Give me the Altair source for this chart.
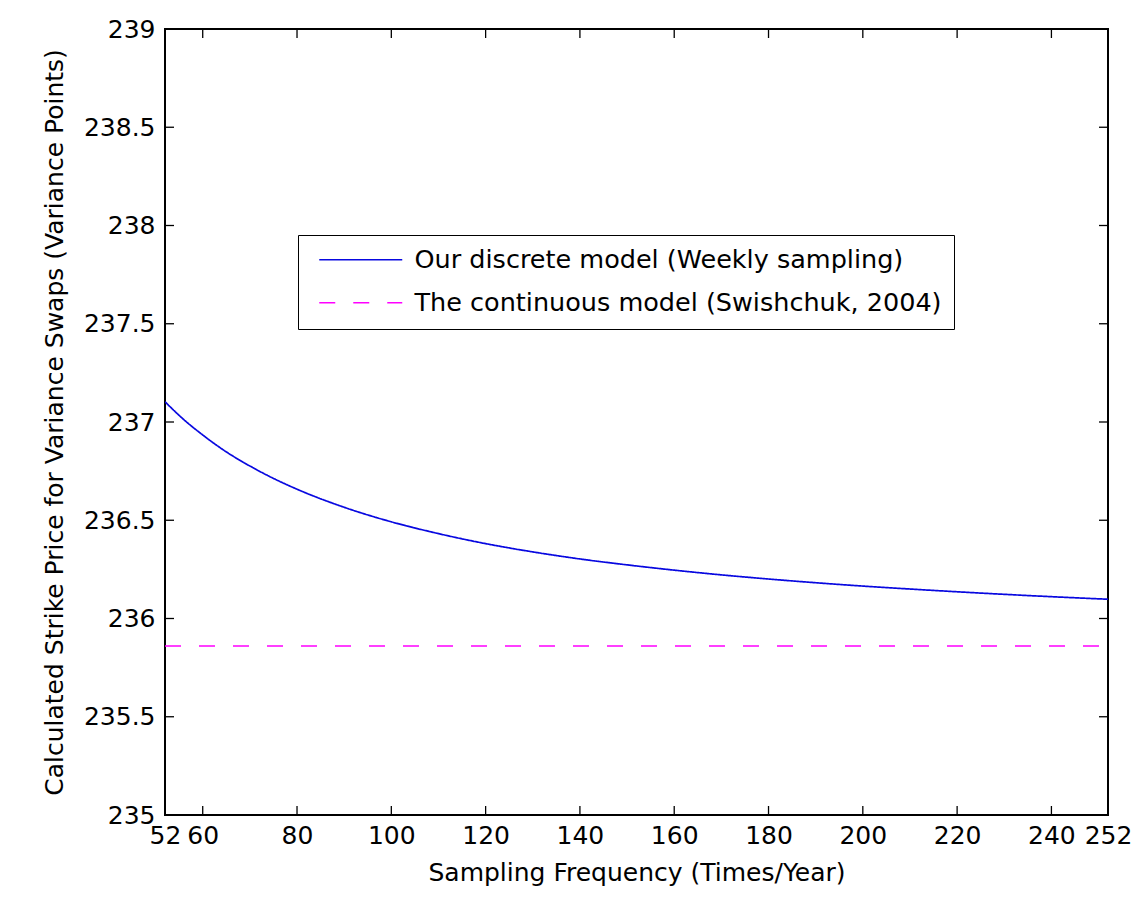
import altair as alt
import pandas as pd

# Sampling frequency (times per year) and the computed strike price of the discrete model
freq = [52, 56, 60, 65, 70, 75, 80, 90, 100, 110, 120, 130, 140, 150,
        160, 170, 180, 190, 200, 210, 220, 230, 240, 252]
discrete = [237.103, 237.012, 236.934, 236.848, 236.776, 236.713, 236.658,
            236.566, 236.492, 236.432, 236.381, 236.339, 236.303, 236.273,
            236.246, 236.222, 236.201, 236.182, 236.165, 236.150, 236.136,
            236.123, 236.111, 236.098]

# Continuous-time benchmark (flat across frequencies)
cont_freq = [52, 252]
continuous = [235.86, 235.86]

series_names = ["Our discrete model (Weekly sampling)",
                "The continuous model (Swishchuk, 2004)"]

x_ticks = [52, 60, 80, 100, 120, 140, 160, 180, 200, 220, 240, 252]
y_ticks = [235, 235.5, 236, 236.5, 237, 237.5, 238, 238.5, 239]

W, H = 943, 786
FONT = "DejaVu Sans"
FS = 25
TICK = 9

lines = pd.DataFrame(
    {"freq": freq, "price": discrete, "series": series_names[0]}
)
lines = pd.concat([
    lines,
    pd.DataFrame({"freq": cont_freq, "price": continuous, "series": series_names[1]}),
])

xscale = alt.Scale(domain=[52, 252], nice=False, zero=False)
yscale = alt.Scale(domain=[235, 239], nice=False, zero=False)

x_title = "Sampling Frequency (Times/Year)"
y_title = "Calculated Strike Price for Variance Swaps (Variance Points)"

line_layer = alt.Chart(lines).mark_line(clip=True, interpolate="monotone").encode(
    x=alt.X("freq:Q", scale=xscale, title=x_title,
            axis=alt.Axis(values=x_ticks, ticks=False, domain=False, grid=False,
                          labelPadding=8, titlePadding=12, labelOverlap=False,
                          labelFlush=False)),
    y=alt.Y("price:Q", scale=yscale, title=y_title,
            axis=alt.Axis(values=y_ticks, format="~f", ticks=False, domain=False,
                          grid=False, labelPadding=10, titlePadding=16,
                          labelOverlap=False, labelFlush=False)),
    color=alt.Color("series:N",
                    scale=alt.Scale(domain=series_names, range=["#0808e0", "#ff00ff"]),
                    legend=alt.Legend(title=None, orient="none", legendX=133, legendY=206,
                                      symbolType="M-0.333,0H7.571", symbolSize=441,
                                      symbolStrokeWidth=1.6, labelFontSize=25.5,
                                      labelFont=FONT, labelColor="black", labelLimit=0,
                                      strokeColor="black", fillColor="white",
                                      padding=12, rowPadding=16, labelOffset=79)),
    strokeDash=alt.StrokeDash("series:N",
                              scale=alt.Scale(domain=series_names,
                                              range=[[1, 0], [16, 18]]),
                              legend=alt.Legend(title=None)),
    strokeWidth=alt.value(1.7),
)

xt = pd.DataFrame({"v": x_ticks})
yt = pd.DataFrame({"v": y_ticks})

# Inward tick marks on all four sides of the box
rule = dict(color="black", strokeWidth=1.3)
x_bottom = alt.Chart(xt).mark_rule(**rule).encode(
    x=alt.X("v:Q", scale=xscale, title=x_title), y=alt.value(H), y2=alt.value(H - TICK))
x_top = alt.Chart(xt).mark_rule(**rule).encode(
    x=alt.X("v:Q", scale=xscale, title=x_title), y=alt.value(0), y2=alt.value(TICK))
y_left = alt.Chart(yt).mark_rule(**rule).encode(
    y=alt.Y("v:Q", scale=yscale, title=y_title), x=alt.value(0), x2=alt.value(TICK))
y_right = alt.Chart(yt).mark_rule(**rule).encode(
    y=alt.Y("v:Q", scale=yscale, title=y_title), x=alt.value(W - TICK), x2=alt.value(W))

chart = alt.layer(line_layer, x_bottom, x_top, y_left, y_right).properties(
    width=W, height=H,
    autosize=alt.AutoSizeParams(type="none"),
    padding={"left": 165, "top": 29, "right": 33, "bottom": 95},
    background="white",
).configure_view(
    stroke="black", strokeWidth=2
).configure_axis(
    labelFont=FONT, labelFontSize=FS, labelColor="black",
    titleFont=FONT, titleFontSize=FS, titleColor="black", titleFontWeight="normal",
)

chart.save("out.html", embed_options={"renderer": "svg", "actions": False})
